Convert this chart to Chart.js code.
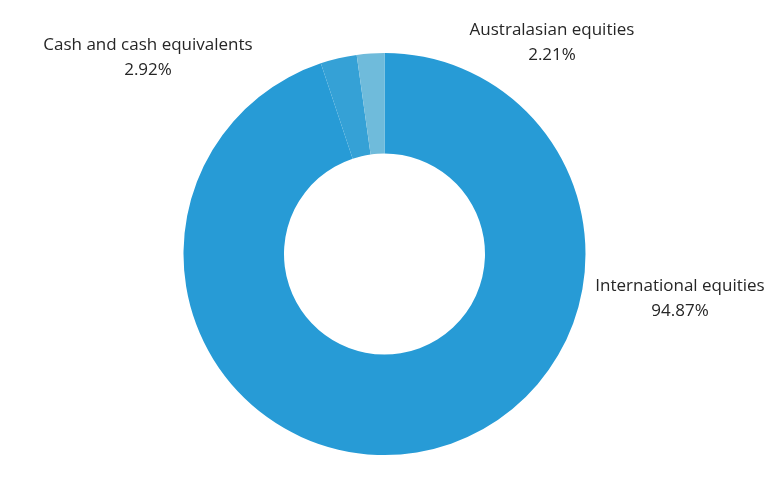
<!DOCTYPE html>
<html>
<head>
<meta charset="utf-8">
<script src="https://cdn.jsdelivr.net/npm/chart.js@4"></script>
<style>
  html, body { margin: 0; padding: 0; background: #fff; }
  #wrap { width: 774px; height: 481px; }
</style>
</head>
<body>
<div id="wrap"><canvas id="assetChart" width="774" height="481"></canvas></div>
<script>
// asset allocation
const labels = ['International equities', 'Cash and cash equivalents', 'Australasian equities'];
const values = [94.87, 2.92, 2.21];
const colors = ['#279bd6', '#35a1d6', '#6fbbdb'];

// where each slice label sits (px), same order as labels
const labelSpots = [
  { x: 680, y: 286 },
  { x: 148, y: 45 },
  { x: 552, y: 30 }
];

const sliceLabels = {
  id: 'sliceLabels',
  afterDraw(chart) {
    const ctx = chart.ctx;
    ctx.save();
    ctx.fillStyle = '#262626';
    ctx.font = '17px "Open Sans", sans-serif';
    ctx.textAlign = 'center';
    ctx.textBaseline = 'middle';
    labels.forEach((name, i) => {
      const p = labelSpots[i];
      ctx.fillText(name, p.x, p.y);
      ctx.fillText(values[i].toFixed(2) + '%', p.x, p.y + 25);
    });
    ctx.restore();
  }
};

new Chart(document.getElementById('assetChart'), {
  type: 'doughnut',
  data: {
    labels: labels,
    datasets: [{
      data: values,
      backgroundColor: colors,
      borderWidth: 0
    }]
  },
  options: {
    responsive: false,
    animation: false,
    cutout: '50%',
    layout: {
      padding: { left: 183, right: 188, top: 53, bottom: 26 }
    },
    plugins: {
      legend: { display: false },
      tooltip: { enabled: false }
    }
  },
  plugins: [sliceLabels]
});
</script>
</body>
</html>
